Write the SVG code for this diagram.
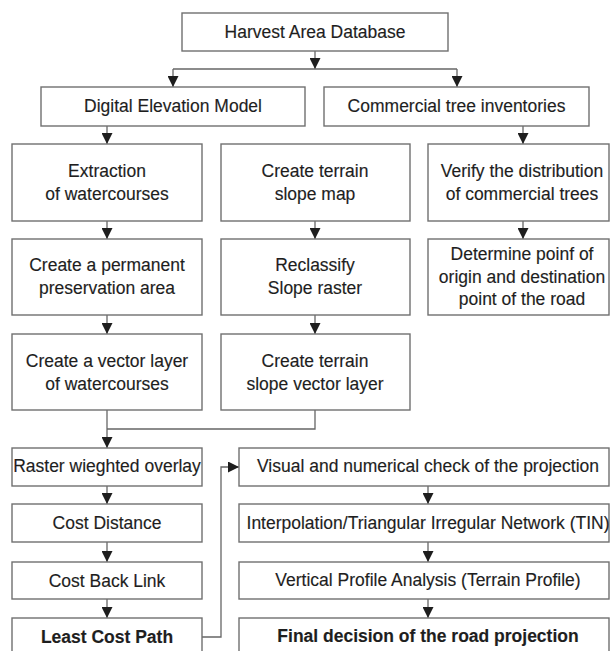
<svg xmlns="http://www.w3.org/2000/svg" width="610" height="651" viewBox="0 0 610 651">
<style>
.box{fill:#fff;stroke:#707070;stroke-width:1.4}
.t{font-family:"Liberation Sans",Arial,sans-serif;font-size:18.5px;fill:#1e1e1e;text-anchor:middle;stroke:#1e1e1e;stroke-width:0.15}
.b{font-weight:bold}
.c{fill:none;stroke:#666;stroke-width:1.3}
</style>
<defs>
<marker id="ah" markerUnits="userSpaceOnUse" markerWidth="11" markerHeight="11" refX="11" refY="5.5" orient="auto">
<path d="M0,0 L11,5.5 L0,11 z" fill="#1e1e1e"/>
</marker>
</defs>
<rect width="610" height="651" fill="#fff"/>
<g id="connectors">
<path class="c" d="M315,51 V69" marker-end="url(#ah)"/>
<path class="c" d="M173,69 H457"/>
<path class="c" d="M173,69 V87" marker-end="url(#ah)"/>
<path class="c" d="M457,69 V87" marker-end="url(#ah)"/>
<path class="c" d="M107,126 V144" marker-end="url(#ah)"/>
<path class="c" d="M523,126 V144" marker-end="url(#ah)"/>
<path class="c" d="M107,221 V239" marker-end="url(#ah)"/>
<path class="c" d="M315,221 V239" marker-end="url(#ah)"/>
<path class="c" d="M523,221 V239" marker-end="url(#ah)"/>
<path class="c" d="M107,315 V334" marker-end="url(#ah)"/>
<path class="c" d="M315,315 V334" marker-end="url(#ah)"/>
<path class="c" d="M107,410 V448" marker-end="url(#ah)"/>
<path class="c" d="M315,410 V429 H107"/>
<path class="c" d="M107,486 V504" marker-end="url(#ah)"/>
<path class="c" d="M107,542 V562" marker-end="url(#ah)"/>
<path class="c" d="M107,599 V618" marker-end="url(#ah)"/>
<path class="c" d="M202,637 H221 V467 H239" marker-end="url(#ah)"/>
<path class="c" d="M428,486 V504" marker-end="url(#ah)"/>
<path class="c" d="M428,542 V562" marker-end="url(#ah)"/>
<path class="c" d="M428,599 V618" marker-end="url(#ah)"/>
</g>
<g id="harvest"><rect class="box" x="182" y="13" width="266" height="38"/><text class="t" transform="translate(315 38) scale(.946 1)">Harvest Area Database</text></g>
<g id="dem"><rect class="box" x="41" y="87" width="264" height="39"/><text class="t" transform="translate(173 112) scale(.946 1)">Digital Elevation Model</text></g>
<g id="commercial"><rect class="box" x="324" y="87" width="265" height="39"/><text class="t" transform="translate(456.5 112) scale(.946 1)">Commercial tree inventories</text></g>
<g id="extraction"><rect class="box" x="12" y="144" width="190" height="77"/><text class="t" transform="translate(107 177) scale(.946 1)">Extraction</text><text class="t" transform="translate(107 200) scale(.946 1)">of watercourses</text></g>
<g id="slopemap"><rect class="box" x="221" y="144" width="189" height="77"/><text class="t" transform="translate(315 177) scale(.946 1)">Create terrain</text><text class="t" transform="translate(315 200) scale(.946 1)">slope map</text></g>
<g id="verify"><rect class="box" x="428" y="144" width="181" height="77"/><text class="t" transform="translate(522 177) scale(.946 1)">Verify the distribution</text><text class="t" transform="translate(522 200) scale(.946 1)">of commercial trees</text></g>
<g id="preservation"><rect class="box" x="12" y="239" width="190" height="76"/><text class="t" transform="translate(107 271) scale(.946 1)">Create a permanent</text><text class="t" transform="translate(107 294) scale(.946 1)">preservation area</text></g>
<g id="reclassify"><rect class="box" x="221" y="239" width="189" height="76"/><text class="t" transform="translate(315 271) scale(.946 1)">Reclassify</text><text class="t" transform="translate(315 294) scale(.946 1)">Slope raster</text></g>
<g id="determine"><rect class="box" x="428" y="239" width="181" height="76"/><text class="t" transform="translate(522 260) scale(.946 1)">Determine poinf of</text><text class="t" transform="translate(522 283) scale(.946 1)">origin and destination</text><text class="t" transform="translate(522 305) scale(.946 1)">point of the road</text></g>
<g id="vectorwater"><rect class="box" x="12" y="334" width="190" height="76"/><text class="t" transform="translate(107 367) scale(.946 1)">Create a vector layer</text><text class="t" transform="translate(107 390) scale(.946 1)">of watercourses</text></g>
<g id="slopevector"><rect class="box" x="221" y="334" width="189" height="76"/><text class="t" transform="translate(315 367) scale(.946 1)">Create terrain</text><text class="t" transform="translate(315 390) scale(.946 1)">slope vector layer</text></g>
<g id="raster"><rect class="box" x="12" y="448" width="190" height="38"/><text class="t" transform="translate(107 472) scale(.946 1)">Raster wieghted overlay</text></g>
<g id="costdistance"><rect class="box" x="12" y="504" width="190" height="38"/><text class="t" transform="translate(107 529) scale(.946 1)">Cost Distance</text></g>
<g id="backlink"><rect class="box" x="12" y="562" width="190" height="37"/><text class="t" transform="translate(107 587) scale(.946 1)">Cost Back Link</text></g>
<g id="leastcost"><rect class="box" x="12" y="618" width="190" height="45"/><text class="t b" transform="translate(107 643) scale(.946 1)">Least Cost Path</text></g>
<g id="visual"><rect class="box" x="239" y="448" width="370" height="38"/><text class="t" transform="translate(428 472) scale(.946 1)">Visual and numerical check of the projection</text></g>
<g id="interpolation"><rect class="box" x="239" y="504" width="370" height="38"/><text class="t" transform="translate(428 529) scale(.946 1)">Interpolation/Triangular Irregular Network (TIN)</text></g>
<g id="profile"><rect class="box" x="239" y="562" width="370" height="37"/><text class="t" transform="translate(428 586) scale(.946 1)">Vertical Profile Analysis (Terrain Profile)</text></g>
<g id="final"><rect class="box" x="239" y="618" width="370" height="45"/><text class="t b" transform="translate(428 642) scale(.946 1)">Final decision of the road projection</text></g>
</svg>
